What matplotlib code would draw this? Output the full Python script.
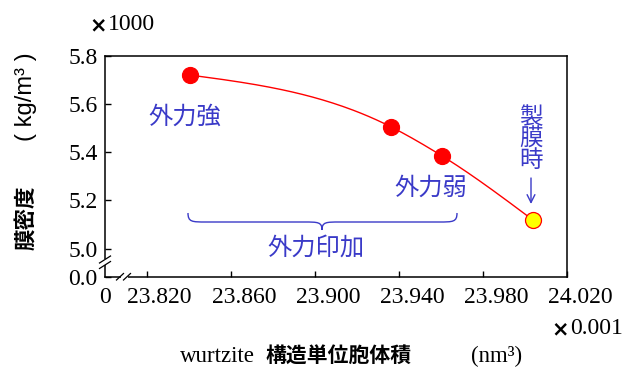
import numpy as np
import matplotlib
matplotlib.use("Agg")
import matplotlib.pyplot as plt
import matplotlib.transforms as mtransforms
from matplotlib.lines import Line2D
from matplotlib.path import Path
from matplotlib.patches import PathPatch, Rectangle

# Film density versus wurtzite unit-cell volume
volume = [23.8405, 23.9364, 23.9607, 24.0039]      # x 0.001 nm^3
density = [5.721, 5.505, 5.384, 5.118]             # x 1000 kg/m^3
point_colors = ["#ff0000", "#ff0000", "#ff0000", "#ffff00"]

x_ticks = [23.800, 23.820, 23.860, 23.900, 23.940, 23.980, 24.020]
x_ticklabels = ["0", "23.820", "23.860", "23.900", "23.940", "23.980", "24.020"]
y_ticks = [4.882, 5.0, 5.2, 5.4, 5.6, 5.8]
y_ticklabels = ["0.0", "5.0", "5.2", "5.4", "5.6", "5.8"]

W, H = 624, 367
BLUE = "#3a3ac8"
SERIF = "Liberation Serif"
CJK = "Noto Sans CJK JP"
SANS = "Liberation Sans"

fig = plt.figure(figsize=(W / 100, H / 100), dpi=100)


def px(x, y):
    """pixel position (from top-left) -> figure fraction"""
    return x / W, 1 - y / H


ax_l, ax_r, ax_t, ax_b = 104.7, 567.0, 56.0, 277.0
ax = fig.add_axes([ax_l / W, 1 - ax_b / H, (ax_r - ax_l) / W, (ax_b - ax_t) / H])
ax.set_xlim(x_ticks[0], x_ticks[-1])
ax.set_ylim(y_ticks[0], y_ticks[-1])

for s in ax.spines.values():
    s.set_linewidth(1.1)
    s.set_color("black")

ax.set_xticks(x_ticks)
ax.set_xticklabels(x_ticklabels, family=SERIF, fontsize=17)
ax.set_yticks(y_ticks)
ax.set_yticklabels(y_ticklabels, family=SERIF, fontsize=17)
ax.tick_params(direction="in", length=4, width=1, pad=5)
ax.tick_params(axis="x", pad=7)
ax.xaxis.get_major_ticks()[0].tick1line.set_visible(False)

# numeric x labels sit a little to the right of their ticks
shift = mtransforms.ScaledTranslation(13 / 100, 0, fig.dpi_scale_trans)
for lab in ax.get_xticklabels()[1:]:
    lab.set_transform(lab.get_transform() + shift)

# smooth curve: cubic Hermite, parabolic slopes inside, natural ends
xv = np.array(volume)
yv = np.array(density)
h = np.diff(xv)
sec = np.diff(yv) / h
m = np.empty_like(xv)
m[1:-1] = (h[1:] * sec[:-1] + h[:-1] * sec[1:]) / (h[:-1] + h[1:])
m[0] = (3 * sec[0] - m[1]) / 2
m[-1] = (3 * sec[-1] - m[-2]) / 2
cx, cy = [], []
t = np.linspace(0, 1, 80)
for i in range(len(xv) - 1):
    h00 = 2 * t**3 - 3 * t**2 + 1
    h10 = t**3 - 2 * t**2 + t
    h01 = -2 * t**3 + 3 * t**2
    h11 = t**3 - t**2
    cx.append(xv[i] + t * h[i])
    cy.append(h00 * yv[i] + h10 * h[i] * m[i] + h01 * yv[i + 1] + h11 * h[i] * m[i + 1])
ax.plot(np.concatenate(cx), np.concatenate(cy), color="#ff0000", lw=1.0, zorder=2)
for x_, y_, c in zip(volume, density, point_colors):
    ax.plot(x_, y_, "o", ms=11.5, mfc=c, mec="#ff0000", mew=0.9, zorder=3)

# axis break marks
def seg(p0, p1):
    x0, y0 = px(*p0)
    x1, y1 = px(*p1)
    fig.add_artist(Line2D([x0, x1], [y0, y1], transform=fig.transFigure,
                          color="black", lw=0.9, zorder=5))

gx0, gy0 = px(100, 265)
gx1, gy1 = px(110, 259)
fig.add_artist(Rectangle((gx0, gy1), gx1 - gx0, gy0 - gy1, transform=fig.transFigure,
                         facecolor="white", edgecolor="none", zorder=4))
seg((99.5, 263.0), (110.5, 256.0))
seg((99.5, 268.5), (110.5, 261.5))

bx0, by0 = px(120.5, 279)
bx1, by1 = px(127.5, 275)
fig.add_artist(Rectangle((bx0, by1), bx1 - bx0, by0 - by1, transform=fig.transFigure,
                         facecolor="white", edgecolor="none", zorder=4))
seg((116.5, 280), (123.5, 273.5))
seg((123.5, 280), (130.5, 273.5))

# scale multipliers
fig.text(*px(89, 25), "×", family="DejaVu Sans", fontweight="bold", fontsize=15,
         ha="left", va="center")
fig.text(*px(108, 25), "1000", family=SERIF, fontsize=17, ha="left", va="center")
fig.text(*px(551, 329), "×", family="DejaVu Sans", fontweight="bold", fontsize=15,
         ha="left", va="center")
fig.text(*px(570, 329), "0.001", family=SERIF, fontsize=17, ha="left", va="center")

# axis titles
fig.text(*px(180, 356), "wurtzite", family=SERIF, fontsize=16.5, ha="left", va="center")
fig.text(*px(265, 355), "構造単位胞体積", family=CJK, fontweight="bold", fontsize=15,
         ha="left", va="center")
fig.text(*px(471, 356), "(nm³)", family=SERIF, fontsize=16.5, ha="left", va="center")

fig.text(*px(26, 218), "膜密度", family=CJK, fontweight="bold", fontsize=15.5,
         rotation=90, ha="center", va="center")
fig.text(*px(26, 97), "( kg/m³ )", family=SANS, fontsize=17,
         rotation=90, ha="center", va="center")

# annotations
fig.text(*px(185, 117), "外力強", family=CJK, fontsize=17.5, color=BLUE,
         ha="center", va="center")
fig.text(*px(431, 188), "外力弱", family=CJK, fontsize=17.5, color=BLUE,
         ha="center", va="center")
fig.text(*px(315.5, 248), "外力印加", family=CJK, fontsize=17.5, color=BLUE,
         ha="center", va="center")
fig.text(*px(531, 139), "製\n膜\n時", family=CJK, fontsize=17, color=BLUE,
         ha="center", va="center", linespacing=0.92)
ax.annotate("", xy=px(531, 204), xytext=px(531, 178),
            xycoords="figure fraction", textcoords="figure fraction",
            arrowprops=dict(arrowstyle="->", color=BLUE, lw=1.0,
                            mutation_scale=14, shrinkA=0, shrinkB=0))

# curly brace under the weak-to-strong range
xl, xr, xm = 188.0, 457.0, 322.0
yt, ym, yb = 213.0, 222.0, 230.0
d = 18.0
bverts = [
    (xl, yt), (xl, ym), (xl + 4, ym), (xl + d, ym),
    (xm - d, ym),
    (xm - 4, ym), (xm, ym), (xm, yb),
    (xm, ym), (xm + 4, ym), (xm + d, ym),
    (xr - d, ym),
    (xr - 4, ym), (xr, ym), (xr, yt),
]
bcodes = [Path.MOVETO, Path.CURVE4, Path.CURVE4, Path.CURVE4,
          Path.LINETO,
          Path.CURVE4, Path.CURVE4, Path.CURVE4,
          Path.CURVE4, Path.CURVE4, Path.CURVE4,
          Path.LINETO,
          Path.CURVE4, Path.CURVE4, Path.CURVE4]
brace = Path([px(*v) for v in bverts], bcodes)
fig.add_artist(PathPatch(brace, transform=fig.transFigure, facecolor="none",
                         edgecolor=BLUE, lw=1.0))

fig.savefig("out.png", dpi=100)
